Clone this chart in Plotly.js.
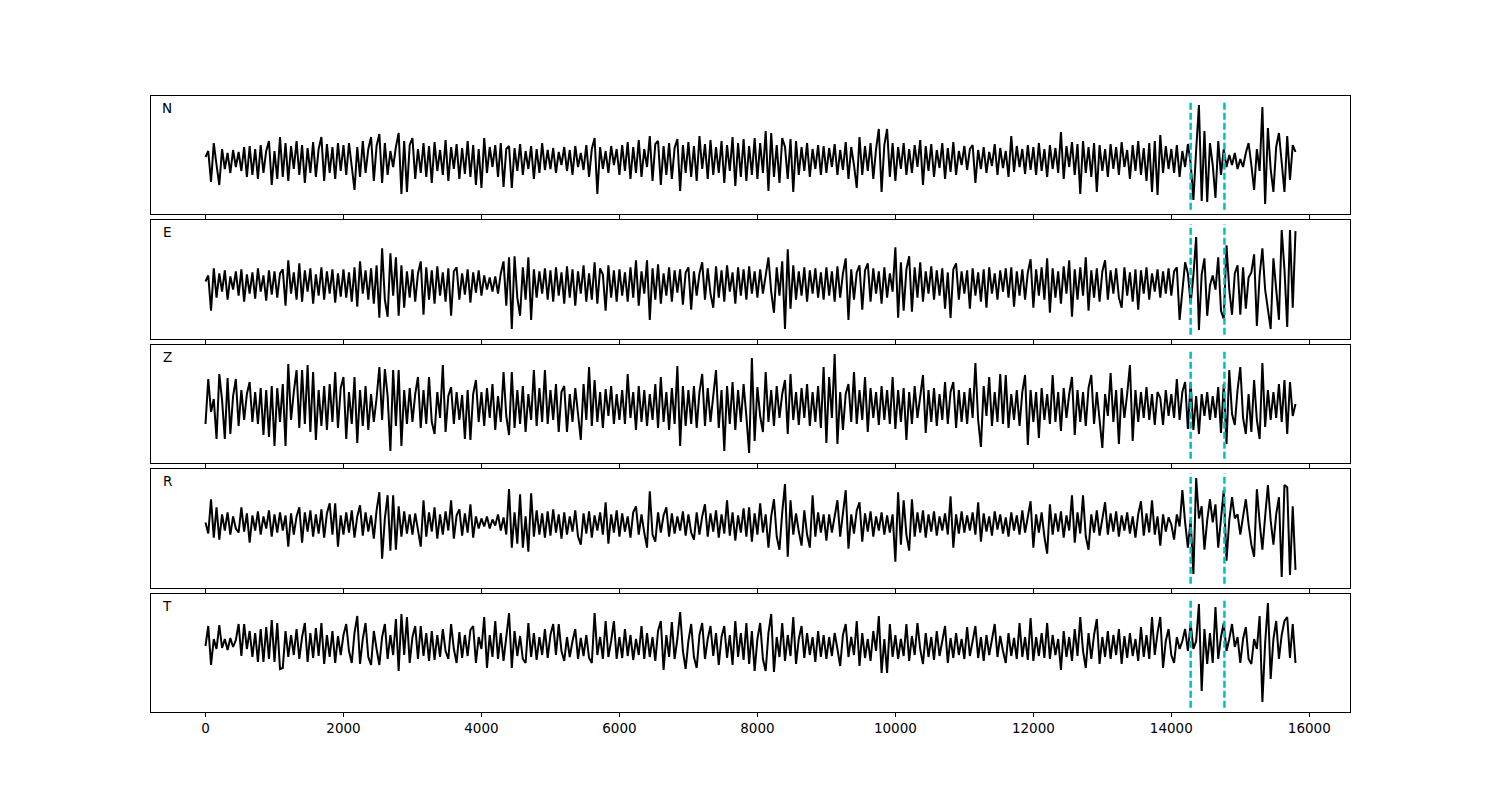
<!DOCTYPE html>
<html>
<head>
<meta charset="utf-8">
<script src="https://cdn.plot.ly/plotly-3.0.1.min.js"></script>
<style>html,body{margin:0;padding:0;background:#fff;}#chart{width:1500px;height:800px;}</style>
</head>
<body>
<div id="chart"></div>
<script>
// Sample spacing of the traces (samples), and component labels
const sampleInterval = 40;
const componentNames = ["N", "E", "Z", "R", "T"];
// Phase pick times (dashed lines)
const pickTimes = [14280, 14770];
// Tick values of the shared time axis
const tickValues = [0, 2000, 4000, 6000, 8000, 10000, 12000, 14000, 16000];

// Amplitudes (one value per sample)
const traceN = [
-2,4,-27,12,-10,-30,6,-14,2,-18,5,-12,3,-16,8,-22,9,-20,6,-24,10,-18,4,14,-30,
4,-24,18,-22,12,-26,9,-14,14,-20,10,-28,7,-18,13,-22,6,18,-26,11,-18,8,-24,12,-16,
10,-20,12,-14,-35,8,-22,14,-18,6,18,-26,9,21,-28,12,-20,4,-12,8,22,-39,14,-37,10,
17,-24,6,-18,12,-22,9,-28,13,-16,5,-20,15,-26,8,-14,11,-24,7,-19,14,-22,10,-30,6,
-33,17,-18,8,-12,10,-22,12,-32,6,9,-33,7,-16,11,-20,4,-14,9,-24,6,-18,12,-15,5,
-14,7,-18,3,-10,8,-16,5,-20,9,-12,2,-15,10,-22,6,17,-39,8,-14,4,-18,9,-10,6,
-20,10,-16,13,-24,8,-18,15,-22,6,-12,19,-26,11,14,-30,9,-20,12,-24,7,16,-36,10,-18,
13,-22,9,-26,19,-14,11,-24,15,-20,8,-18,14,-28,10,-16,18,-31,12,-22,16,-26,9,-20,17,
-24,12,-18,24,-36,22,-22,10,-28,17,8,-24,16,-37,14,-20,8,-16,12,-22,6,-14,10,-20,9,
-18,7,-12,11,-20,5,-15,13,-24,8,-10,-33,18,-20,9,-16,12,-24,6,26,-37,10,26,-22,12,
-26,8,-14,12,-20,6,-18,10,-12,15,-30,9,-16,11,-22,5,-13,12,-24,7,-17,13,-20,4,-10,
9,-15,6,10,-28,5,-14,8,-18,3,-11,11,-20,7,-13,4,-22,19,-17,9,-12,6,-19,10,-15,
8,-20,12,-16,6,-22,10,-14,7,-18,23,-24,9,-12,13,-20,11,-39,14,-18,8,-22,12,-37,10,
-16,6,-22,11,-14,8,-20,13,-12,5,-24,10,-16,14,-20,7,-26,12,-37,14,-40,20,-18,9,-14,
6,-18,10,-22,4,-12,11,-8,-45,5,50,-46,24,-47,12,-10,-43,14,-20,6,-12,0,-10,2,-14,
-4,-12,2,12,-10,-35,6,-16,48,-49,27,-14,-37,8,22,-12,-37,19,-25,10,3];

const traceE = [
-2,4,-31,11,-18,6,-12,9,-20,3,-10,8,-16,10,-22,5,-14,7,-19,11,-12,4,-21,9,-15,
8,-18,6,10,-26,19,-14,7,-20,16,-22,9,-12,11,-24,5,-16,12,-20,8,-14,10,-23,6,-17,
10,-18,7,-22,12,-27,18,-14,9,-20,11,-24,14,-38,31,-20,-37,26,-16,22,-36,14,-28,8,-18,
10,-22,6,18,-35,12,-20,9,-24,13,-16,7,-22,11,-36,8,12,-20,6,-15,10,-23,7,-13,9,
-16,4,-10,2,-12,3,-14,6,18,-26,22,-49,23,-18,-36,12,-20,22,-40,10,-18,8,-14,11,-20,
9,-22,12,-16,7,-24,13,-18,10,-26,8,-14,14,-22,6,-20,17,-24,11,5,-31,14,-18,9,-22,
10,-16,7,-22,12,-18,19,-26,8,-14,19,-40,11,-20,15,-24,6,-16,12,-22,9,-13,10,-25,7,
12,-30,8,-16,6,17,-20,11,-14,-28,13,-18,9,-22,14,-12,7,-24,12,-16,10,-20,13,-14,8,
-18,10,-14,6,22,-12,-33,12,-16,18,-49,30,-29,14,-20,8,-16,12,-22,9,-14,11,-18,7,-20,
12,-16,8,-22,13,-18,6,21,-40,10,-20,7,14,-30,9,16,-22,11,-14,8,-24,12,-18,6,-12,
32,-38,17,-31,10,23,-32,12,-18,17,-22,8,-14,13,-20,9,-16,11,-29,7,-38,10,16,-20,8,
-14,9,-29,11,-16,7,-22,10,-28,12,-14,6,-20,9,-12,11,-18,12,-27,8,-16,10,-20,7,20,
-28,10,-16,12,-20,21,-33,11,-18,8,-24,13,-14,19,-37,10,-20,12,-16,22,-31,9,-18,11,-22,
8,19,-20,9,-14,11,-18,-28,12,-16,7,-22,10,-30,9,-14,12,-20,6,-12,10,-18,8,-14,11,
-16,8,12,-40,-10,17,6,-24,4,42,-50,5,21,-36,-6,4,-10,22,-31,-39,34,-10,-35,6,14,
-35,12,-29,2,7,25,-46,4,31,-10,-30,-49,21,-12,-40,49,10,-47,49,-28,48];

const traceZ = [
-20,25,-8,5,-35,30,4,-35,26,-30,8,25,-22,14,-16,10,22,-18,12,-20,16,-31,14,-33,18,
-42,16,-18,20,-42,40,-16,12,34,-24,34,-20,39,-28,32,-36,14,-22,18,-26,20,-18,32,-24,16,
27,-35,12,-20,27,-39,14,-22,18,-26,10,-18,6,37,-16,35,8,-47,34,-22,34,-42,14,-20,16,
-18,10,27,-24,14,-20,27,-18,-30,12,-14,39,-28,8,17,-20,12,-16,9,-35,14,-36,10,24,-18,
12,-22,16,-14,20,-26,8,-18,32,-12,-31,32,-24,14,-20,18,-28,10,-16,34,-22,16,-18,34,-20,
14,-16,20,-28,12,18,-28,10,-18,16,-14,-36,20,-16,37,-22,24,-18,12,-24,15,-12,18,-20,10,
-16,14,-20,30,-14,12,-26,18,-18,14,-22,10,-16,20,-24,27,-18,12,-26,16,-20,38,-42,18,-22,
14,-20,18,-24,12,30,-22,16,-18,10,34,-24,14,-47,18,-20,22,-26,14,-18,20,-12,-49,46,-37,
17,-12,-28,32,-18,14,-22,18,-14,10,24,-30,30,-16,12,-21,16,-14,20,-22,12,-18,18,-24,37,
-39,27,-14,50,-40,12,-26,10,20,-18,32,-20,14,-16,27,-28,16,-14,12,-21,18,-16,14,-20,27,
-25,14,-18,16,-36,12,-20,18,-14,10,29,-29,14,-18,16,-22,10,-16,22,-20,12,22,-24,14,-18,
12,-20,16,-14,41,-16,-43,18,-12,27,-22,12,-18,30,-20,29,-24,10,-16,14,-22,12,29,-41,14,
-18,12,-34,16,-16,10,-20,29,-18,12,-27,16,-14,10,27,-31,14,-18,12,-22,16,29,-20,12,-18,
-44,10,-12,31,-18,14,-40,16,-14,10,39,-37,14,-18,12,-14,17,-16,10,-21,12,6,-21,14,-12,
10,-14,25,-16,12,22,-25,22,-26,8,-30,10,-12,12,-16,8,-14,17,-29,20,-40,34,-10,-21,14,
37,-14,-30,10,-28,24,-16,-35,41,-23,14,-16,12,-14,20,-18,24,-30,22,-12,0];

const traceR = [
6,-5,29,-9,21,-11,14,-2,16,-6,12,0,-4,21,-3,15,-14,13,-2,17,-6,12,0,18,-8,
14,-4,16,-2,13,-18,15,-6,12,21,-14,16,-3,18,-8,14,-5,19,-9,15,25,-6,25,-18,13,
-6,16,-4,18,-9,12,23,-7,16,-3,13,-10,18,36,-30,10,33,-22,33,-21,22,-8,17,-5,14,
-6,15,-4,-18,28,-8,16,-3,21,-10,14,-6,17,-2,28,-10,13,19,-7,15,-4,24,-9,12,0,
10,2,12,0,9,3,14,-2,11,-6,39,-19,16,-15,34,-19,12,-23,35,-8,18,-6,15,-9,17,
-7,19,-4,14,-10,16,-6,12,-3,18,-8,-16,15,-5,17,-9,13,-2,16,-6,26,-15,14,-4,18,
-8,15,-3,12,-9,16,22,-6,14,-4,-19,37,-6,-13,16,-4,13,21,-8,15,-5,12,-2,17,-7,
14,-4,-11,16,-6,12,24,-8,15,-3,18,-9,14,-5,28,-7,16,-12,13,-4,20,-8,21,-13,15,
-6,25,-4,14,-19,12,29,-8,-21,16,44,-28,28,-6,15,-3,-17,18,-6,-19,33,-8,16,-4,14,
-12,14,-4,12,28,-8,16,38,-20,14,-5,18,26,-13,15,-3,17,-8,12,-2,16,-6,13,-4,14,
-33,36,-16,28,-6,-22,29,-8,16,-4,18,-9,14,-3,17,-7,12,-2,15,-6,32,-19,14,-5,17,
-4,13,-2,16,-6,26,-13,15,-3,12,-7,17,-1,14,-5,11,-8,16,-2,13,-6,18,-4,12,27,
-19,14,-4,16,-8,-25,24,-6,15,-3,17,-9,13,-2,33,-14,16,-5,33,-8,-21,14,-4,18,-7,
12,26,-6,15,-3,17,-8,13,-2,16,-5,12,-9,14,27,-7,15,-4,28,-6,12,-17,14,-3,11,
4,-11,14,2,38,6,-19,8,-45,50,10,22,-21,8,29,6,24,-19,10,38,-32,8,31,10,14,
-6,12,29,4,-16,-28,39,6,-21,12,43,8,-16,14,31,-48,43,41,-46,22,-41];

const traceT = [
7,27,-12,14,4,28,5,14,3,15,6,13,29,-3,29,4,22,-4,20,-9,24,-9,26,-6,33,
-9,30,-16,-15,22,-4,18,-2,24,-6,16,30,-9,20,-5,25,-3,30,-11,18,-4,22,-10,17,-2,
18,29,2,-10,20,37,-11,14,30,-4,-12,22,4,-12,16,29,-6,18,-2,34,-18,39,-2,36,-10,
16,27,-6,27,-3,20,-8,22,-7,18,-4,24,2,-6,29,4,-10,21,-5,18,-3,23,27,-10,16,
4,36,-15,18,-4,32,-6,20,-8,14,40,-15,22,-3,17,-6,-10,30,-4,20,-7,16,-2,24,-5,
18,29,-2,29,2,-8,16,-4,12,24,-6,15,-3,18,-5,-10,40,-2,16,-6,32,-4,12,32,-6,
16,-5,24,-3,18,-7,14,-2,27,-6,20,-4,16,-8,22,32,-17,18,-4,31,-6,14,41,2,-16,
12,29,-4,-15,18,30,-6,14,27,-3,20,-12,16,27,-5,18,-12,32,-4,20,-7,30,-11,22,-18,
14,30,-6,-18,20,39,-19,16,-4,30,-8,18,-3,36,-11,14,27,-5,20,-2,16,-9,22,-4,18,
-6,16,-3,20,4,-13,18,29,-4,16,-2,32,-13,20,-5,14,-8,22,2,37,-20,14,-20,29,-4,
18,-6,14,-3,29,-8,17,-2,30,4,-11,20,-4,16,-7,22,-3,12,27,-10,15,-5,20,-2,14,
-6,26,-3,14,27,-5,16,-8,18,-2,12,29,-4,17,2,-10,20,-3,15,-6,30,-4,16,-7,35,
-8,16,-3,20,-5,30,-6,18,-2,14,-17,22,-4,16,-8,24,-3,36,2,-15,20,-6,18,34,-11,
16,-4,22,-6,18,-2,24,-11,17,-5,20,-3,14,-8,26,-4,18,-6,36,-2,20,36,-15,12,24,
-2,-10,16,4,12,24,2,30,4,12,49,-38,24,-11,20,-10,46,-6,16,30,2,14,29,6,16,
-10,14,26,-6,-11,14,4,37,-49,10,50,-26,14,32,-6,18,32,36,-5,29,-10];

const allTraces = [traceN, traceE, traceZ, traceR, traceT];

// ---- layout (pixel geometry of the reference figure) ----
const W = 1500, H = 800;
const panelPx = [[96, 214], [220, 339], [345, 463], [469, 588], [594, 712]];
const xDom = [151 / W, 1350 / W];
const xRange = [-790, 16590];
const yRange = [-59, 59];
const fontFam = "DejaVu Sans, Liberation Sans, sans-serif";

const data = [];
const layout = {
  width: W, height: H,
  margin: {l: 0, r: 0, t: 0, b: 0, pad: 0},
  paper_bgcolor: "#ffffff",
  plot_bgcolor: "#ffffff",
  showlegend: false,
  font: {family: fontFam, size: 14, color: "#000"},
  shapes: [],
  annotations: []
};

allTraces.forEach((vals, k) => {
  const n = k + 1;
  const xa = n === 1 ? "x" : "x" + n;
  const ya = n === 1 ? "y" : "y" + n;
  const times = vals.map((_, i) => i * sampleInterval);
  data.push({
    type: "scatter", mode: "lines",
    x: times, y: vals,
    xaxis: xa, yaxis: ya,
    line: {color: "#000000", width: 2},
    hoverinfo: "skip"
  });
  const dom = [1 - panelPx[k][1] / H, 1 - panelPx[k][0] / H];
  layout["xaxis" + (n === 1 ? "" : n)] = {
    domain: xDom, anchor: ya, range: xRange,
    showgrid: false, zeroline: false,
    showline: true, mirror: true, linecolor: "#000", linewidth: 1,
    ticks: "outside", ticklen: 4, tickwidth: 1, tickcolor: "#000",
    tickmode: "array", tickvals: tickValues,
    ticktext: tickValues.map(String),
    showticklabels: n === 5,
    tickfont: {family: fontFam, size: 13.5, color: "#000"}
  };
  layout["yaxis" + (n === 1 ? "" : n)] = {
    domain: dom, anchor: xa, range: yRange,
    showgrid: false, zeroline: false,
    showline: true, mirror: true, linecolor: "#000", linewidth: 1,
    ticks: "", showticklabels: false
  };
  pickTimes.forEach(t => {
    layout.shapes.push({
      type: "line", xref: xa, yref: ya + " domain",
      x0: t, x1: t, y0: 0.035, y1: 0.965,
      line: {color: "#00BFBF", width: 2.5, dash: "7px,3px"},
      layer: "above"
    });
  });
  layout.annotations.push({
    xref: "paper", yref: "paper",
    x: 167 / W, y: 1 - (panelPx[k][0] + 12) / H,
    xanchor: "center", yanchor: "middle",
    text: componentNames[k], showarrow: false,
    font: {family: fontFam, size: 13.5, color: "#000"}
  });
});

Plotly.newPlot("chart", data, layout, {displayModeBar: false, staticPlot: true});
</script>
</body>
</html>
